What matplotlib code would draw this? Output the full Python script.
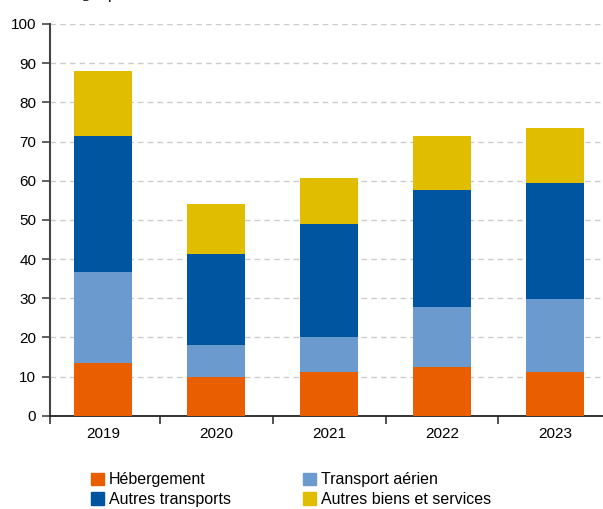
import matplotlib
matplotlib.use('Agg')
import matplotlib.pyplot as plt
from matplotlib.patches import Patch
import numpy as np

plt.rcParams.update({
    'font.family': ['Liberation Sans', 'DejaVu Sans'],
    'font.size': 11,
    'mathtext.fontset': 'custom',
    'mathtext.rm': 'Liberation Sans',
    'mathtext.it': 'Liberation Sans:italic',
})

# Data (MtCO2 eq)
years = ['2019', '2020', '2021', '2022', '2023']
hebergement = [13.4, 9.9, 11.1, 12.4, 11.1]
transport_aerien = [23.4, 8.3, 8.9, 15.5, 18.6]
autres_transports = [34.5, 23.2, 29.0, 29.6, 29.8]
autres_biens = [16.7, 12.7, 11.8, 14.0, 14.0]

series = [
    ('Hébergement', hebergement, '#e85e00'),
    ('Transport aérien', transport_aerien, '#6b9bce'),
    ('Autres transports', autres_transports, '#0055a0'),
    ('Autres biens et services', autres_biens, '#e1bd00'),
]

fig = plt.figure(figsize=(6.03, 5.09), dpi=100)
ax = fig.add_axes([0.083, 0.183, 0.917, 0.770])

x = np.arange(len(years))
bottom = np.zeros(len(years))
for name, vals, col in series:
    ax.bar(x, vals, width=0.51, bottom=bottom, color=col, zorder=3, label=name)
    bottom += np.array(vals)

x_left, x_right = -0.469, 4.425
ax.set_yticks(np.arange(0, 101, 10))
ax.set_xticks(x)
ax.set_xticklabels(years)
ax.set_xticks([x_left] + list(np.arange(0.5, len(years) - 1, 1)), minor=True)
# limits after the ticks, so they are not widened
ax.set_ylim(0, 100)
ax.set_xlim(x_left, x_right)

ax.yaxis.grid(True, color='#cccccc', linestyle=(0, (4, 3)), linewidth=1, zorder=0)
ax.tick_params(axis='x', which='major', length=0, pad=8, labelsize=11)
ax.tick_params(axis='x', which='minor', length=6, width=1.3, color='#444444')
ax.tick_params(axis='y', length=6, width=1.2, color='#444444', labelsize=11, pad=4)

for s in ['top', 'right']:
    ax.spines[s].set_visible(False)
ax.spines['left'].set_color('#444444')
ax.spines['left'].set_linewidth(1.5)
ax.spines['bottom'].set_color('#222222')
ax.spines['bottom'].set_linewidth(1.3)

# unit label, mostly cut off at the top edge as in the source
fig.text(0.072, 1.002, 'MtCO$_2$ éq', fontsize=11, ha='left', va='baseline')

handles = [Patch(color=c, label=n) for n, v, c in series]
order = [0, 2, 1, 3]
fig.legend([handles[i] for i in order], [series[i][0] for i in order],
           ncol=2, loc='lower left', bbox_to_anchor=(91 / 603, 0.004),
           frameon=False, fontsize=11.5, handlelength=0.82, handleheight=0.82,
           handletextpad=0.31, labelspacing=0.28, columnspacing=4.5,
           borderpad=0, borderaxespad=0)

fig.savefig('out.png', dpi=100)
